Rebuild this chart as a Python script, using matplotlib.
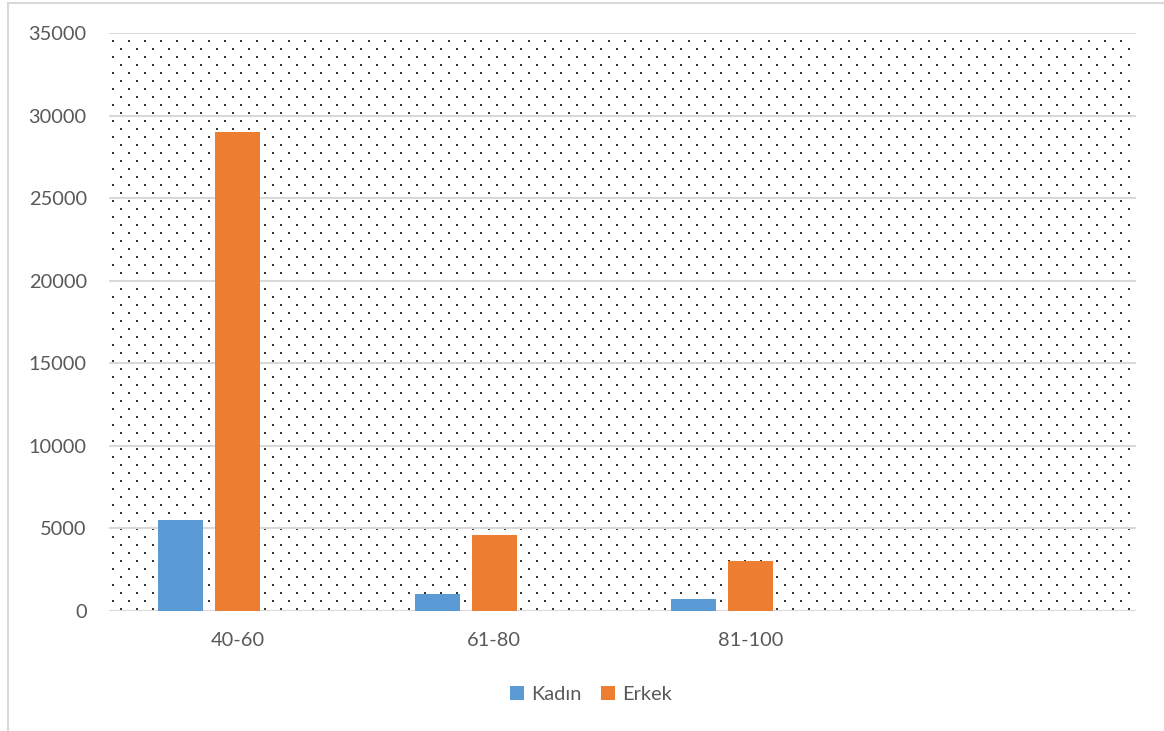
import numpy as np
import matplotlib
matplotlib.use('Agg')
from matplotlib import pyplot as plt
from matplotlib.lines import Line2D

categories = ['40-60', '61-80', '81-100']
kadin = [5500, 1000, 700]
erkek = [29000, 4600, 3000]
yticks = [0, 5000, 10000, 15000, 20000, 25000, 30000, 35000]

BLUE = '#5B9BD5'
ORANGE = '#ED7D31'
TEXT = '#595959'
GRID = '#D9D9D9'

plt.rcParams['font.family'] = ['Lato', 'DejaVu Sans']

W, H = 1164, 731
fig = plt.figure(figsize=(W / 100, H / 100), dpi=100)
ax_l, ax_r, ax_t, ax_b = 109, 1136, 33, 611
ax = fig.add_axes([ax_l / W, 1 - ax_b / H, (ax_r - ax_l) / W, (ax_b - ax_t) / H])

# dotted background pattern of the plot area
pw, ph = ax_r - ax_l, ax_b - ax_t
pat = np.ones((ph, pw, 3))
for r, y in enumerate(range(7, ph - 1, 8)):
    x0 = 3 if r % 2 == 0 else 11
    for x in range(x0, pw - 1, 16):
        pat[y:y + 2, x:x + 2] = 0.2
ax.imshow(pat, extent=(0, 1, 0, 1), transform=ax.transAxes, aspect='auto',
          interpolation='nearest', zorder=0)

x = np.arange(len(categories))
bw = 45 / 256.75
off = 57 / 256.75
ax.bar(x - off, kadin, width=bw, color=BLUE, label='Kadın', zorder=3)
ax.bar(x, erkek, width=bw, color=ORANGE, label='Erkek', zorder=3)

ax.set_xlim(-0.5, 3.5)
ax.set_ylim(0, 35000)
ax.set_yticks(yticks)
ax.set_yticklabels([str(v) for v in yticks])
ax.set_xticks(x)
ax.set_xticklabels(categories)
ax.yaxis.grid(True, color=GRID, linewidth=1.5, zorder=1)
ax.set_axisbelow(True)
ax.tick_params(axis='both', length=0, labelsize=14.4, colors=TEXT)
ax.tick_params(axis='y', pad=16)
ax.tick_params(axis='x', pad=15)
for s in ax.spines.values():
    s.set_visible(False)

fig.legend(loc='center', bbox_to_anchor=(591 / W, 1 - 694 / H), ncol=2,
           frameon=False, fontsize=14.4, labelcolor=TEXT,
           handlelength=0.7, handleheight=0.7, handletextpad=0.35,
           columnspacing=0.95)

# chart area border (left and top only visible)
fig.add_artist(Line2D([8 / W, 8 / W], [0, 1 - 3 / H], color=GRID, lw=1.5))
fig.add_artist(Line2D([8 / W, 1], [1 - 3 / H, 1 - 3 / H], color=GRID, lw=1.5))

plt.savefig('out.png', dpi=100)
